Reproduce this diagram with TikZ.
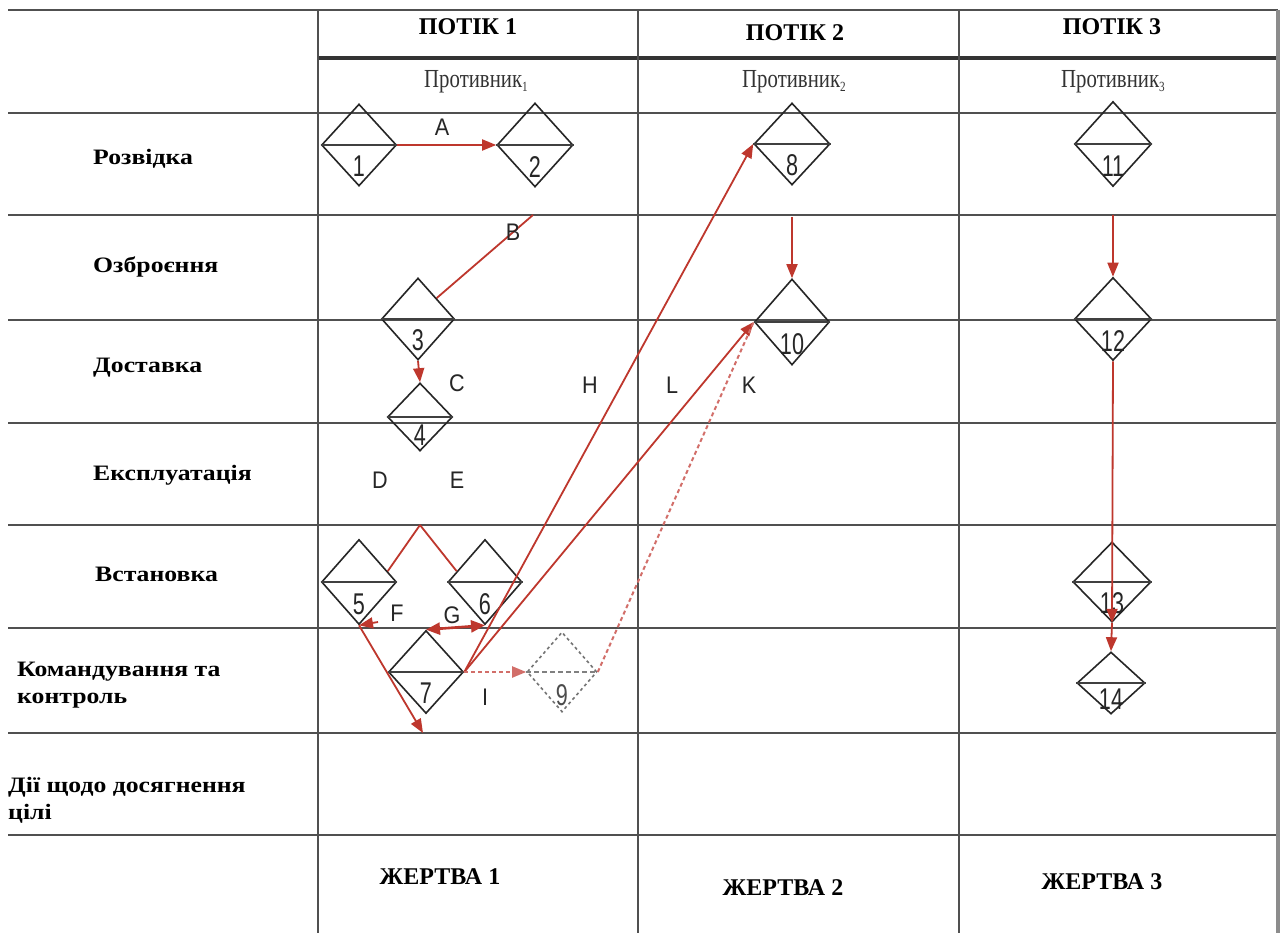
\documentclass[tikz,border=0pt]{standalone}
\usepackage{fontspec}
\setmainfont{Liberation Serif}
\newfontfamily\rowfont[FakeStretch=1.17]{Liberation Serif}
\newfontfamily\advfont[FakeStretch=0.8]{Liberation Serif}
\newfontfamily\numfont[FakeStretch=0.72]{Liberation Sans}
\newfontfamily\letfont[FakeStretch=0.9]{Liberation Sans}
\usetikzlibrary{arrows.meta,shapes.geometric,calc}
\definecolor{rd}{RGB}{190,55,45}
\definecolor{rdl}{RGB}{210,110,105}
\definecolor{gridc}{RGB}{80,80,80}
\newcommand\sbs[1]{\raisebox{-4pt}{\fontsize{14}{14}\selectfont #1}}
\begin{document}
\begin{tikzpicture}[x=1pt,y=-1pt,
  hline/.style={draw=gridc, line width=2.8pt},
  vline/.style={draw=gridc, line width=1.8pt},
  dia/.style={diamond, draw=black!85, line width=1.6pt, inner sep=0pt},
  eq/.style={draw=black!75, line width=2.6pt},
  num/.style={font=\numfont\fontsize{30}{30}\selectfont, text=black!85, inner sep=0pt},
  lbl/.style={font=\letfont\fontsize{24}{24}\selectfont, text=black!85, inner sep=0pt},
  hdr/.style={font=\bfseries\fontsize{24}{24}\selectfont, inner sep=0pt},
  adv/.style={font=\advfont\fontsize{26}{26}\selectfont, text=black!80, inner sep=0pt},
  rowl/.style={font=\rowfont\bfseries\fontsize{22}{27}\selectfont, inner sep=0pt, align=left},
  vic/.style={font=\bfseries\fontsize{24}{24}\selectfont, inner sep=0pt},
  rline/.style={draw=rd, line width=1.8pt},
  rarrow/.style={draw=rd, line width=1.8pt, -{Triangle[length=14pt,width=11pt]}},
  rdash/.style={draw=rdl, line width=2pt, dash pattern=on 4pt off 3pt}
]
\useasboundingbox (0,0) rectangle (1283,933);
\fill[white] (0,0) rectangle (1283,933);

% grid
\draw[hline] (8,10) -- (1278,10);
\draw[draw=black!80, line width=4.5pt] (318,58) -- (1278,58);
\foreach \yy in {113,215,320,423,525,628,733,835}
  \draw[hline] (8,\yy) -- (1278,\yy);
\draw[vline] (318,10) -- (318,933);
\draw[vline] (638,10) -- (638,933);
\draw[vline] (959,10) -- (959,933);
\draw[draw=black!45, line width=3.5pt] (1278,10) -- (1278,933);

% headers
\node[hdr] (p1) at (468,27) {ПОТІК 1};
\node[hdr] (p2) at (795,33) {ПОТІК 2};
\node[hdr] (p3) at (1112,27) {ПОТІК 3};
\node[adv] (a1) at (476,82) {Противник\sbs{1}};
\node[adv] (a2) at (794,82) {Противник\sbs{2}};
\node[adv] (a3) at (1113,82) {Противник\sbs{3}};

% row labels
\node[rowl, anchor=base west] (r1) at (93,165) {Розвідка};
\node[rowl, anchor=base west] (r2) at (93,273) {Озброєння};
\node[rowl, anchor=base west] (r3) at (93,373) {Доставка};
\node[rowl, anchor=base west] (r4) at (93,480) {Експлуатація};
\node[rowl, anchor=base west] (r5) at (95,581) {Встановка};
\node[rowl, anchor=west] (r6) at (17,685) {Командування та\\контроль};
\node[rowl, anchor=west] (r7) at (8,800) {Дії щодо досягнення\\цілі};

% victims
\node[vic] (v1) at (440,877) {ЖЕРТВА 1};
\node[vic] (v2) at (783,888) {ЖЕРТВА 2};
\node[vic] (v3) at (1102,882) {ЖЕРТВА 3};

% diamonds
\foreach \n/\x/\y/\w/\h in {1/359/145/75/82, 2/535/145/76/84, 3/418/319/73/82,
   4/420/417/65/68, 5/359/582/75/85, 6/485/582/74/85, 7/426/672/75/83,
   8/792/144/76/82, 10/792/322/75/86, 11/1113/144/77/85, 12/1113/319/77/83,
   13/1112/582/78/80, 14/1111/683/68/62}{
  \node[dia, minimum width=\w pt, minimum height=\h pt] (d\n) at (\x,\y) {};
  \draw[eq] (d\n.west) -- (d\n.east);
  \node[num] (n\n) at ($(d\n.center)+(0,{0.26*\h})$) {\n};
}
\node[dia, draw=black!55, dash pattern=on 3pt off 3pt, minimum width=70pt, minimum height=80pt] (d9) at (562,672) {};
\draw[draw=black!50, line width=2.2pt, dash pattern=on 5pt off 3pt] (d9.west) -- (d9.east);
\node[num, text=black!70] (n9) at ($(d9.center)+(0,23)$) {9};

% connectors
\coordinate (b0) at (533,215);
\coordinate (de) at (420,525);
\coordinate (f1) at (423,733);
\coordinate (s5) at (378,622);
\coordinate (k8) at (792,217);
\coordinate (k11) at (1113,215);

\draw[rarrow] (d1.east) -- (d2.west);
\draw[rline] (b0) -- ($(d3.north)!0.5!(d3.east)$);
\draw[rarrow] (d3.south) -- (d4.north);
\draw[rline] (de) -- ($(d5.north)!0.75!(d5.east)$);
\draw[rline] (de) -- ($(d6.north)!0.75!(d6.west)$);
\draw[rarrow] (d7.east) -- (d8.west);
\draw[rarrow] (d7.east) -- (d10.west);
\draw[rdash, -{Triangle[length=14pt,width=11pt]}] (d7.east) -- (d9.west);
\draw[rdash] (d9.east) -- (d10.west);
\draw[rarrow] (d5.south) -- (f1);
\draw[draw=rd, line width=2.6pt, {Triangle[length=14pt,width=12pt]}-{Triangle[length=14pt,width=12pt]}] (d7.north) -- (d6.south);
\draw[rarrow] (s5) -- (d5.south);
\draw[rarrow] (k8) -- (d10.north);
\draw[rarrow] (k11) -- (d12.north);
\draw[rarrow] (d12.south) -- (d13.south);
\draw[rarrow] (d13.south) -- (d14.north);

% letter labels
\node[lbl] (lA) at (442,127) {A};
\node[lbl] (lB) at (513,232) {B};
\node[lbl] (lC) at (457,383) {C};
\node[lbl] (lH) at (590,385) {H};
\node[lbl] (lL) at (672,385) {L};
\node[lbl] (lK) at (749,385) {K};
\node[lbl] (lD) at (380,480) {D};
\node[lbl] (lE) at (457,480) {E};
\node[lbl] (lF) at (397,613) {F};
\node[lbl] (lG) at (452,615) {G};
\node[lbl] (lI) at (485,697) {I};
\end{tikzpicture}
\end{document}
